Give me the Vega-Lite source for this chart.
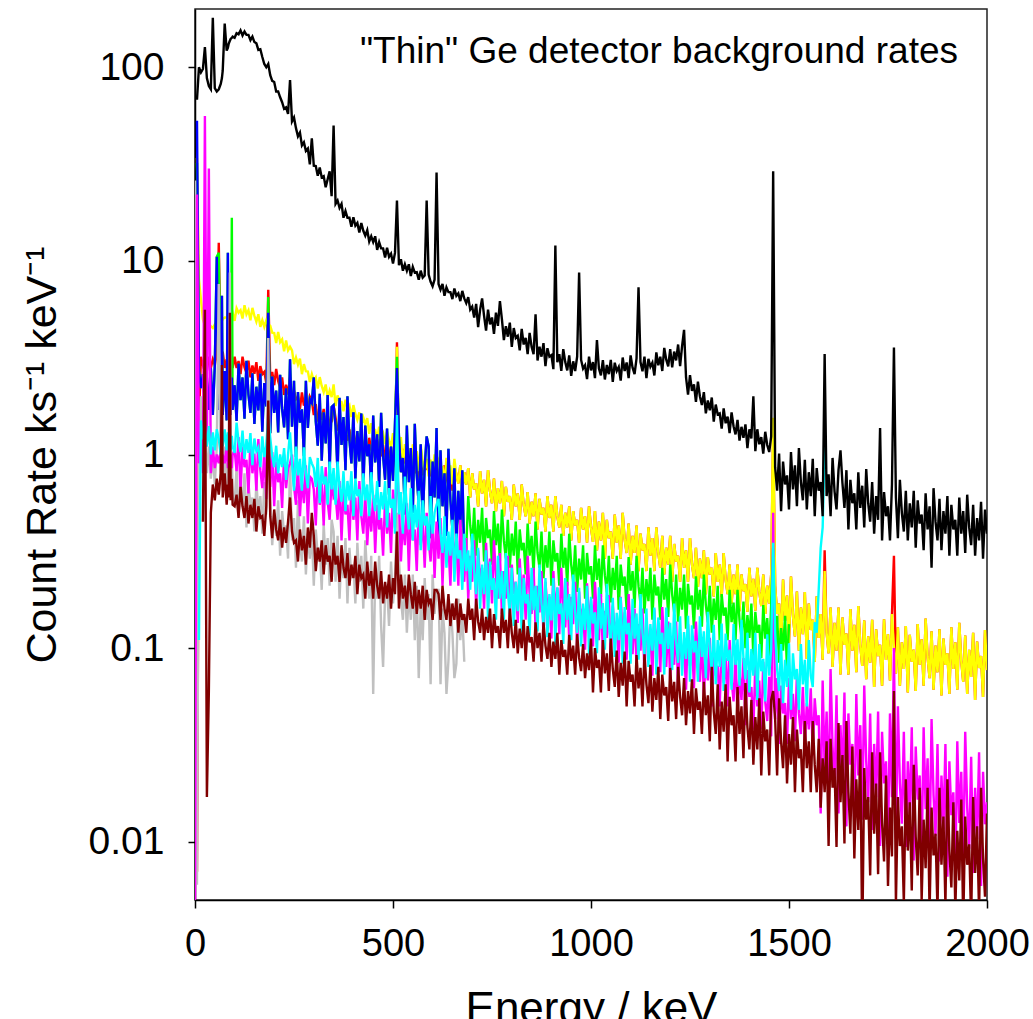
{
"$schema": "https://vega.github.io/schema/vega-lite/v6.json",
"width": 792, "height": 891,
"autosize": "none",
"padding": {"left": 195, "top": 9, "right": 46, "bottom": 119},
"background": "white",
"title": {"text": "\"Thin\" Ge detector background rates", "anchor": "end", "frame": "group", "orient": "top", "offset": -54, "dy": 37, "baseline": "alphabetic", "fontSize": 37, "fontWeight": "normal", "font": "Liberation Sans", "color": "#000", "dx": -29},
"config": {"view": {"stroke": "#222", "strokeWidth": 1.5}, "font": "Liberation Sans",
 "axis": {"grid": false, "domainColor": "#000", "tickColor": "#000", "labelColor": "#000", "titleColor": "#000", "titleFontWeight": "normal", "domainWidth": 1.5, "tickWidth": 1.5, "labelFont": "Liberation Sans", "titleFont": "Liberation Sans"}},
"data": {"values": [
{"e":0,"m":0.004,"a":26},
{"e":5,"k":68,"y":34,"r":0.007,"g":32,"b":53,"m":22,"a":0.006},
{"e":10,"k":100,"y":8,"r":1.5,"g":2.7,"b":2.7,"m":0.9,"c":0.11,"a":1.2},
{"e":15,"k":94,"y":6.3,"r":3.2,"g":2.2,"b":2.2,"m":1.3,"c":1.5,"a":2.0},
{"e":20,"k":98,"y":5.0,"r":2.9,"g":2.6,"b":2.6,"m":0.8,"c":1.2,"a":0.9,"n":0.45},
{"e":25,"k":127,"y":4.6,"r":3.1,"g":1.8,"b":1.8,"m":56,"c":1.35,"a":1.3,"n":5.6},
{"e":30,"k":88,"y":4.8,"r":2.7,"g":2.5,"b":2.5,"m":1.1,"c":1.1,"a":0.8,"n":0.017},
{"e":35,"k":80,"y":4.5,"r":3.2,"g":1.7,"b":1.7,"m":30,"c":1.4,"a":1.1,"n":0.06},
{"e":40,"k":77,"y":4.6,"r":2.8,"g":2.8,"b":2.8,"m":0.8,"c":1.0,"a":0.75,"n":0.5},
{"e":45,"k":180,"y":4.5,"r":3.1,"g":1.6,"b":1.6,"m":1.1,"c":1.3,"a":1.0,"n":0.7},
{"e":50,"k":78,"y":4.7,"r":2.9,"g":2.9,"b":2.9,"m":0.85,"c":1.05,"a":0.7,"n":0.58},
{"e":55,"k":75,"y":4.6,"r":3.3,"g":10.5,"b":10.5,"m":1.0,"c":1.35,"a":1.1,"n":0.75},
{"e":60,"k":77,"y":4.8,"r":12.4,"g":11,"b":1.7,"m":0.9,"c":1.2,"a":7.6,"n":0.62},
{"e":65,"k":82,"y":4.9,"r":3.0,"g":2.6,"b":2.6,"m":1.05,"c":1.0,"a":0.7,"n":0.8},
{"e":68,"k":88,"y":4.9,"r":2.9,"g":6.6,"b":6.6,"m":0.85,"c":1.3,"a":0.95,"n":2.9},
{"e":70,"k":96,"y":5.0,"r":3.4,"g":1.6,"b":1.6,"m":1.0,"c":1.1,"a":0.65,"n":0.6},
{"e":75,"k":168,"y":5.1,"r":2.8,"g":2.7,"b":2.7,"m":0.9,"c":1.35,"a":1.1,"n":0.8},
{"e":80,"k":122,"y":5.1,"r":3.1,"g":1.5,"b":1.5,"m":1.1,"c":1.05,"a":0.6,"n":0.55},
{"e":83,"k":126,"y":5.2,"r":2.8,"g":11,"b":11,"m":0.85,"c":1.3,"a":0.9,"n":0.7},
{"e":85,"k":132,"y":5.2,"r":3.0,"g":1.8,"b":1.8,"m":1.05,"c":1.1,"a":0.7,"n":0.6},
{"e":88,"k":137,"y":5.3,"r":3.2,"g":2.8,"b":2.8,"m":0.9,"c":1.4,"a":8.7,"n":5.4},
{"e":90,"k":140,"y":5.3,"r":2.9,"g":1.6,"b":1.6,"m":1.0,"c":1.05,"a":0.65,"n":0.58},
{"e":93,"k":142,"y":5.3,"r":3.0,"g":16.7,"b":2.5,"m":0.85,"c":1.25,"a":1.0,"n":0.75},
{"e":95,"k":144,"y":5.4,"r":2.8,"g":1.7,"b":1.7,"m":1.0,"c":1.1,"a":0.6,"n":0.55},
{"e":100,"k":142,"y":4.9,"r":3.2,"g":2.28,"b":2.28,"m":1.06,"c":1.02,"a":0.56,"n":0.54},
{"e":105,"k":150,"y":5.7,"r":2.8,"g":1.49,"b":1.49,"m":0.82,"c":1.46,"a":0.85,"n":0.62},
{"e":110,"k":148,"y":5.4,"r":3.04,"g":2.95,"b":2.95,"m":1.23,"c":1.17,"a":0.48,"n":0.47},
{"e":115,"k":155,"y":5.56,"r":2.6,"g":1.91,"b":1.91,"m":0.64,"c":1.03,"a":0.72,"n":0.68},
{"e":120,"k":146,"y":5.04,"r":3.2,"g":2.5,"b":2.5,"m":1.1,"c":1.33,"a":0.54,"n":0.54},
{"e":125,"k":153,"y":5.9,"r":2.82,"g":1.53,"b":1.53,"m":0.86,"c":0.95,"a":0.8,"n":0.47},
{"e":130,"k":147,"y":5.3,"r":2.64,"g":3.05,"b":3.05,"m":0.94,"c":1.2,"a":0.42,"n":0.61},
{"e":135,"k":147,"y":5.56,"r":3.05,"g":2.04,"b":2.04,"m":0.63,"c":1.02,"a":0.71,"n":0.44},
{"e":140,"k":138,"y":4.93,"r":2.5,"g":1.64,"b":1.64,"m":1.2,"c":1.29,"a":0.55,"n":0.55},
{"e":145,"k":144,"y":5.72,"r":2.88,"g":2.63,"b":2.63,"m":0.8,"c":0.88,"a":0.6,"n":0.47},
{"e":150,"k":135,"y":5.2,"r":2.61,"g":1.44,"b":1.44,"m":1.01,"c":1.21,"a":0.4,"n":0.59},
{"e":155,"k":133,"y":4.85,"r":3.0,"g":2.24,"b":2.24,"m":0.65,"c":1.04,"a":0.73,"n":0.4},
{"e":160,"k":123,"y":5.3,"r":2.4,"g":1.69,"b":1.69,"m":1.2,"c":1.09,"a":0.49,"n":0.54},
{"e":165,"k":124,"y":4.56,"r":2.86,"g":2.62,"b":2.62,"m":0.83,"c":0.86,"a":0.61,"n":0.47},
{"e":170,"k":113,"y":4.94,"r":2.6,"g":1.31,"b":1.31,"m":0.67,"c":1.24,"a":0.39,"n":0.48},
{"e":175,"k":104,"y":4.56,"r":2.67,"g":2.34,"b":2.34,"m":1.04,"c":0.97,"a":0.72,"n":0.38},
{"e":180,"k":100,"y":4.92,"r":2.34,"g":1.77,"b":1.77,"m":0.59,"c":1.11,"a":0.49,"n":0.54},
{"e":185,"k":104,"y":4.7,"r":7.1,"g":6.5,"b":5.4,"m":1.3,"c":1.6,"a":4.0,"n":1.9},
{"e":190,"k":91,"y":4.62,"r":2.47,"g":1.29,"b":1.29,"m":0.68,"c":1.22,"a":0.6,"n":0.48},
{"e":195,"k":85,"y":4.26,"r":2.67,"g":2.53,"b":2.53,"m":1.03,"c":0.98,"a":0.34,"n":0.37},
{"e":200,"k":84,"y":4.24,"r":2.28,"g":1.64,"b":1.64,"m":0.54,"c":0.86,"a":0.5,"n":0.52},
{"e":205,"k":75,"y":3.77,"r":2.77,"g":2.14,"b":2.14,"m":0.92,"c":1.11,"a":0.38,"n":0.41},
{"e":210,"k":75,"y":4.3,"r":2.4,"g":1.3,"b":1.3,"m":0.72,"c":0.8,"a":0.58,"n":0.36},
{"e":215,"k":70,"y":3.8,"r":2.2,"g":2.58,"b":2.58,"m":0.8,"c":1.0,"a":0.3,"n":0.46},
{"e":220,"k":66,"y":3.93,"r":2.5,"g":1.72,"b":1.72,"m":0.53,"c":0.86,"a":0.51,"n":0.33},
{"e":225,"k":61,"y":3.41,"r":2.03,"g":1.38,"b":1.38,"m":1.0,"c":1.08,"a":0.39,"n":0.42},
{"e":230,"k":62,"y":3.88,"r":2.29,"g":2.2,"b":2.2,"m":0.67,"c":0.74,"a":0.43,"n":0.35},
{"e":235,"k":57.5,"y":3.45,"r":2.04,"g":1.2,"b":1.2,"m":0.85,"c":1.0,"a":0.29,"n":0.45},
{"e":240,"k":86,"y":3.6,"r":2.5,"g":3.1,"b":3.1,"m":0.9,"c":1.3,"a":0.9,"n":0.6},
{"e":245,"k":52.5,"y":3.45,"r":1.82,"g":1.39,"b":1.39,"m":1.0,"c":0.9,"a":0.36,"n":0.4},
{"e":250,"k":55,"y":2.93,"r":2.14,"g":2.4,"b":2.4,"m":0.69,"c":0.65,"a":0.47,"n":0.35},
{"e":255,"k":48.5,"y":3.17,"r":1.93,"g":0.97,"b":0.97,"m":0.55,"c":1.1,"a":0.26,"n":0.36},
{"e":260,"k":44,"y":2.91,"r":1.98,"g":2.1,"b":2.1,"m":0.88,"c":0.78,"a":0.58,"n":0.28},
{"e":265,"k":46,"y":3.13,"r":1.72,"g":1.46,"b":1.46,"m":0.48,"c":0.95,"a":0.36,"n":0.41},
{"e":270,"k":39.5,"y":2.6,"r":2.09,"g":1.71,"b":1.71,"m":0.75,"c":0.65,"a":0.28,"n":0.32},
{"e":275,"k":41,"y":2.93,"r":1.79,"g":0.98,"b":0.98,"m":0.56,"c":1.09,"a":0.48,"n":0.38},
{"e":280,"k":37,"y":2.69,"r":1.93,"g":2.4,"b":2.4,"m":0.88,"c":0.8,"a":0.24,"n":0.27},
{"e":285,"k":38,"y":2.68,"r":1.63,"g":1.37,"b":1.37,"m":0.44,"c":0.67,"a":0.39,"n":0.42},
{"e":290,"k":31.5,"y":2.37,"r":1.99,"g":1.93,"b":1.93,"m":0.77,"c":0.97,"a":0.29,"n":0.33},
{"e":295,"k":43,"y":2.6,"r":1.9,"g":1.85,"b":1.85,"m":0.75,"c":0.9,"a":0.4,"n":0.5},
{"e":300,"k":31,"y":2.4,"r":1.6,"g":2.5,"b":2.5,"m":0.66,"c":0.85,"a":0.21,"n":0.38},
{"e":305,"k":30.9,"y":2.5,"r":1.82,"g":1.48,"b":1.48,"m":0.43,"c":0.68,"a":0.41,"n":0.25},
{"e":310,"k":27.5,"y":2.19,"r":1.48,"g":1.11,"b":1.11,"m":0.83,"c":0.96,"a":0.3,"n":0.33},
{"e":315,"k":30.4,"y":2.51,"r":1.68,"g":2.06,"b":2.06,"m":0.55,"c":0.56,"a":0.33,"n":0.28},
{"e":320,"k":27,"y":2.26,"r":1.51,"g":0.93,"b":0.93,"m":0.71,"c":0.87,"a":0.2,"n":0.36},
{"e":325,"k":27.4,"y":2.1,"r":1.72,"g":1.65,"b":1.65,"m":0.43,"c":0.7,"a":0.44,"n":0.24},
{"e":330,"k":24,"y":2.3,"r":1.36,"g":1.14,"b":1.14,"m":0.86,"c":0.77,"a":0.27,"n":0.34},
{"e":335,"k":26.4,"y":1.97,"r":1.6,"g":2.03,"b":2.03,"m":0.57,"c":0.55,"a":0.37,"n":0.28},
{"e":340,"k":29,"y":2.14,"r":1.44,"g":0.82,"b":0.82,"m":0.46,"c":0.92,"a":0.21,"n":0.3},
{"e":345,"k":21.6,"y":1.98,"r":1.48,"g":1.76,"b":1.76,"m":0.73,"c":0.66,"a":0.46,"n":0.22},
{"e":350,"k":50,"y":2.3,"r":1.8,"g":1.8,"b":1.8,"m":0.6,"c":0.85,"a":0.4,"n":0.35},
{"e":355,"k":19.7,"y":1.78,"r":1.55,"g":1.4,"b":1.4,"m":0.62,"c":0.55,"a":0.22,"n":0.27},
{"e":360,"k":20.5,"y":2.02,"r":1.33,"g":0.81,"b":0.81,"m":0.46,"c":0.92,"a":0.38,"n":0.3},
{"e":365,"k":18.8,"y":1.87,"r":1.43,"g":1.96,"b":1.96,"m":0.73,"c":0.68,"a":0.18,"n":0.22},
{"e":370,"k":19.7,"y":1.87,"r":1.21,"g":1.12,"b":1.12,"m":0.36,"c":0.57,"a":0.31,"n":0.34},
{"e":375,"k":16.7,"y":1.67,"r":1.47,"g":1.56,"b":1.56,"m":0.65,"c":0.82,"a":0.23,"n":0.26},
{"e":380,"k":18.1,"y":1.92,"r":1.28,"g":0.83,"b":0.83,"m":0.49,"c":0.51,"a":0.37,"n":0.23},
{"e":385,"k":16.7,"y":1.72,"r":1.18,"g":2.0,"b":2.0,"m":0.55,"c":0.73,"a":0.17,"n":0.31},
{"e":390,"k":16.7,"y":1.79,"r":1.35,"g":1.19,"b":1.19,"m":0.36,"c":0.58,"a":0.33,"n":0.21},
{"e":395,"k":15,"y":1.56,"r":1.1,"g":0.9,"b":0.9,"m":0.71,"c":0.82,"a":0.23,"n":0.27},
{"e":400,"k":16.8,"y":1.8,"r":1.25,"g":1.65,"b":1.65,"m":0.46,"c":0.48,"a":0.27,"n":0.23},
{"e":405,"k":15.2,"y":1.62,"r":1.13,"g":0.75,"b":0.75,"m":0.6,"c":0.75,"a":0.17,"n":0.3},
{"e":410,"k":15.7,"y":1.51,"r":1.29,"g":1.32,"b":1.32,"m":0.36,"c":0.61,"a":0.35,"n":0.19},
{"e":415,"k":14,"y":1.65,"r":1.03,"g":0.92,"b":0.92,"m":0.73,"c":0.66,"a":0.22,"n":0.27},
{"e":420,"k":15.7,"y":1.42,"r":1.23,"g":1.63,"b":1.63,"m":0.48,"c":0.48,"a":0.3,"n":0.23},
{"e":425,"k":14.3,"y":1.55,"r":1.11,"g":0.65,"b":0.65,"m":0.39,"c":0.8,"a":0.16,"n":0.24},
{"e":430,"k":13.5,"y":1.43,"r":1.14,"g":1.41,"b":1.41,"m":0.62,"c":0.58,"a":0.36,"n":0.18},
{"e":435,"k":14.4,"y":1.54,"r":1.0,"g":0.98,"b":0.98,"m":0.34,"c":0.7,"a":0.23,"n":0.28},
{"e":440,"k":12.6,"y":1.28,"r":1.22,"g":1.13,"b":1.13,"m":0.53,"c":0.48,"a":0.18,"n":0.21},
{"e":445,"k":13.4,"y":1.45,"r":1.05,"g":0.65,"b":0.65,"m":0.4,"c":0.81,"a":0.3,"n":0.25},
{"e":450,"k":12.5,"y":1.35,"r":1.13,"g":1.59,"b":1.59,"m":0.62,"c":0.6,"a":0.058,"n":0.18},
{"e":455,"k":13.4,"y":1.34,"r":0.96,"g":0.91,"b":0.91,"m":0.31,"c":0.51,"a":0.24,"n":0.28},
{"e":460,"k":11.4,"y":1.2,"r":1.2,"g":1.27,"b":1.27,"m":0.55,"c":0.73,"a":0.18,"n":0.21},
{"e":465,"k":12.5,"y":1.39,"r":1.05,"g":0.68,"b":0.68,"m":0.41,"c":0.46,"a":0.3,"n":0.18},
{"e":470,"k":11.6,"y":1.24,"r":0.98,"g":1.64,"b":1.64,"m":0.47,"c":0.64,"a":0.13,"n":0.25},
{"e":475,"k":11.6,"y":1.29,"r":1.12,"g":0.98,"b":0.98,"m":0.3,"c":0.52,"a":0.08,"n":0.17},
{"e":480,"k":10.4,"y":1.13,"r":0.92,"g":0.74,"b":0.74,"m":0.6,"c":0.73,"a":0.19,"n":0.22},
{"e":485,"k":11.7,"y":1.31,"r":1.06,"g":1.36,"b":1.36,"m":0.39,"c":0.42,"a":0.21,"n":0.18},
{"e":490,"k":10.5,"y":1.18,"r":0.96,"g":0.62,"b":0.62,"m":0.5,"c":0.67,"a":0.13,"n":0.24},
{"e":495,"k":10.9,"y":1.1,"r":1.1,"g":1.1,"b":1.1,"m":0.31,"c":0.53,"a":0.28,"n":0.16},
{"e":500,"k":9.7,"y":1.29,"r":0.86,"g":0.73,"b":0.73,"m":0.66,"c":0.59,"a":0.17,"n":0.23},
{"e":505,"k":11,"y":0.96,"r":1.07,"g":1.45,"b":1.45,"m":0.42,"c":0.39,"a":0.23,"n":0.19},
{"e":510,"k":20.5,"y":3.6,"r":3.8,"g":3.2,"b":2.8,"m":0.9,"c":1.6,"a":0.5,"n":0.4},
{"e":515,"k":9.5,"y":1.01,"r":0.99,"g":1.24,"b":1.24,"m":0.56,"c":0.49,"a":0.29,"n":0.16},
{"e":520,"k":10.2,"y":1.23,"r":0.82,"g":0.81,"b":0.81,"m":0.28,"c":0.64,"a":0.18,"n":0.24},
{"e":525,"k":8.9,"y":0.88,"r":1.07,"g":0.96,"b":0.96,"m":0.46,"c":0.39,"a":0.14,"n":0.18},
{"e":530,"k":9.6,"y":1.13,"r":0.9,"g":0.49,"b":0.49,"m":0.34,"c":0.77,"a":0.24,"n":0.21},
{"e":535,"k":8.9,"y":0.98,"r":0.98,"g":1.41,"b":1.41,"m":0.56,"c":0.52,"a":0.12,"n":0.16},
{"e":540,"k":9.6,"y":1.03,"r":0.8,"g":0.72,"b":0.72,"m":0.25,"c":0.41,"a":0.2,"n":0.24},
{"e":545,"k":8.35,"y":0.83,"r":1.03,"g":1.08,"b":1.08,"m":0.5,"c":0.67,"a":0.14,"n":0.19},
{"e":550,"k":9.3,"y":1.13,"r":0.88,"g":0.5,"b":0.5,"m":0.36,"c":0.36,"a":0.24,"n":0.16},
{"e":555,"k":8.7,"y":0.92,"r":0.8,"g":1.44,"b":1.44,"m":0.41,"c":0.55,"a":0.11,"n":0.22},
{"e":560,"k":8.75,"y":1.04,"r":0.95,"g":0.78,"b":0.78,"m":0.25,"c":0.42,"a":0.21,"n":0.15},
{"e":565,"k":8.0,"y":0.82,"r":0.75,"g":0.55,"b":0.55,"m":0.55,"c":0.65,"a":0.07,"n":0.2},
{"e":570,"k":8.9,"y":1.12,"r":0.88,"g":1.13,"b":1.13,"m":0.34,"c":0.32,"a":0.17,"n":0.16},
{"e":575,"k":8.2,"y":0.92,"r":0.78,"g":0.44,"b":0.44,"m":0.46,"c":0.58,"a":0.11,"n":0.21},
{"e":580,"k":8.4,"y":0.83,"r":0.92,"g":0.86,"b":0.86,"m":0.26,"c":0.43,"a":0.23,"n":0.14},
{"e":585,"k":20.5,"y":0.95,"r":0.85,"g":1.24,"b":1.24,"m":0.5,"c":0.48,"a":0.14,"n":0.2},
{"e":590,"k":8.5,"y":0.77,"r":0.87,"g":1.1,"b":1.1,"m":0.36,"c":0.32,"a":0.19,"n":0.17},
{"e":595,"k":7.8,"y":0.94,"r":0.79,"g":0.37,"b":0.37,"m":0.28,"c":0.61,"a":0.065,"n":0.18},
{"e":600,"k":7.4,"y":0.82,"r":0.82,"g":0.92,"b":0.92,"m":0.48,"c":0.39,"a":0.24,"n":0.14},
{"e":605,"k":8.0,"y":1.0,"r":0.68,"g":0.6,"b":0.6,"m":0.23,"c":0.5,"a":0.15,"n":0.2},
{"e":610,"k":28.6,"y":0.9,"r":0.88,"g":1.37,"b":1.37,"m":0.45,"c":0.55,"a":0.2,"n":0.2},
{"e":615,"k":7.6,"y":0.94,"r":0.76,"g":0.37,"b":0.37,"m":0.29,"c":0.59,"a":0.2,"n":0.19},
{"e":620,"k":7.1,"y":0.82,"r":0.82,"g":1.05,"b":1.05,"m":0.47,"c":0.39,"a":0.065,"n":0.14},
{"e":625,"k":7.6,"y":0.87,"r":0.68,"g":0.54,"b":0.54,"m":0.21,"c":0.31,"a":0.16,"n":0.21},
{"e":630,"k":6.6,"y":0.71,"r":0.88,"g":0.8,"b":0.8,"m":0.41,"c":0.48,"a":0.12,"n":0.16},
{"e":635,"k":7.3,"y":0.96,"r":0.76,"g":0.38,"b":0.38,"m":0.3,"c":0.26,"a":0.058,"n":0.14},
{"e":640,"k":6.9,"y":0.78,"r":0.69,"g":1.07,"b":1.07,"m":0.34,"c":0.4,"a":0.086,"n":0.19},
{"e":645,"k":6.9,"y":0.88,"r":0.83,"g":0.58,"b":0.58,"m":0.21,"c":0.3,"a":0.17,"n":0.13},
{"e":650,"k":6.35,"y":0.7,"r":0.65,"g":0.41,"b":0.41,"m":0.45,"c":0.46,"a":0.12,"n":0.17},
{"e":655,"k":7.2,"y":0.95,"r":0.77,"g":0.85,"b":0.85,"m":0.27,"c":0.22,"a":0.07,"n":0.14},
{"e":660,"k":6.6,"y":0.79,"r":0.79,"g":0.33,"b":0.33,"m":0.37,"c":0.39,"a":0.083,"n":0.18},
{"e":665,"k":6.8,"y":0.71,"r":0.71,"g":0.65,"b":0.65,"m":0.21,"c":0.29,"a":0.18,"n":0.12},
{"e":670,"k":6.2,"y":0.88,"r":0.88,"g":0.42,"b":0.42,"m":0.46,"c":0.32,"a":0.11,"n":0.17},
{"e":675,"k":7.0,"y":0.66,"r":0.66,"g":0.83,"b":0.83,"m":0.29,"c":0.2,"a":0.15,"n":0.14},
{"e":680,"k":6.4,"y":0.81,"r":0.81,"g":0.29,"b":0.29,"m":0.22,"c":0.39,"a":0.085,"n":0.15},
{"e":685,"k":6.05,"y":0.7,"r":0.7,"g":0.33,"m":0.37,"c":0.25,"n":0.12},
{"e":690,"k":6.5,"y":0.85,"r":0.85,"g":0.61,"m":0.18,"c":0.32,"n":0.18},
{"e":695,"k":5.6,"y":0.6,"r":0.6,"g":0.43,"m":0.3,"c":0.2,"n":0.14},
{"e":700,"k":5.8,"y":0.8,"r":0.8,"g":0.34,"m":0.22,"c":0.39,"n":0.16},
{"e":705,"k":5.1,"y":0.66,"r":0.66,"g":0.53,"m":0.36,"c":0.25,"n":0.11},
{"e":710,"k":6.0,"y":0.71,"r":0.71,"g":0.3,"m":0.16,"c":0.19,"n":0.18},
{"e":715,"k":4.55,"y":0.54,"r":0.54,"g":0.46,"m":0.32,"c":0.33,"n":0.137},
{"e":720,"k":5.6,"y":0.82,"r":0.82,"g":0.35,"m":0.23,"c":0.16,"n":0.12},
{"e":725,"k":6.4,"y":0.63,"r":0.63,"g":0.53,"m":0.26,"c":0.27,"n":0.16},
{"e":730,"k":5.2,"y":0.74,"r":0.74,"g":0.28,"m":0.16,"c":0.19,"n":0.11},
{"e":735,"k":4.36,"y":0.54,"r":0.54,"g":0.47,"m":0.35,"c":0.32,"n":0.145},
{"e":740,"k":5.6,"y":0.83,"r":0.83,"g":0.37,"m":0.22,"c":0.14,"n":0.12},
{"e":745,"k":4.7,"y":0.645,"r":0.645,"g":0.41,"m":0.29,"c":0.28,"n":0.16},
{"e":750,"k":5.1,"y":0.56,"r":0.56,"g":0.27,"m":0.17,"c":0.2,"n":0.1},
{"e":755,"k":4.2,"y":0.75,"r":0.75,"g":0.51,"m":0.36,"c":0.23,"n":0.15},
{"e":760,"k":5.4,"y":0.51,"r":0.51,"g":0.34,"m":0.23,"c":0.14,"n":0.12},
{"e":765,"k":4.62,"y":0.67,"r":0.67,"g":0.44,"m":0.18,"c":0.3,"n":0.13},
{"e":770,"k":6.2,"y":0.56,"r":0.56,"g":0.28,"m":0.31,"c":0.18,"n":0.1},
{"e":775,"k":5.0,"y":0.73,"r":0.73,"g":0.52,"m":0.15,"c":0.25,"n":0.16},
{"e":780,"k":3.9,"y":0.48,"r":0.48,"g":0.36,"m":0.25,"c":0.14,"n":0.12},
{"e":785,"k":4.6,"y":0.68,"r":0.68,"g":0.29,"m":0.18,"c":0.31,"n":0.14},
{"e":790,"k":4.06,"y":0.57,"r":0.57,"g":0.46,"m":0.3,"c":0.195,"n":0.1},
{"e":795,"k":4.8,"y":0.61,"r":0.61,"g":0.26,"m":0.14,"c":0.15,"n":0.16},
{"e":800,"k":3.6,"y":0.46,"r":0.46,"g":0.39,"m":0.27,"c":0.26,"n":0.12},
{"e":805,"k":4.5,"y":0.7,"r":0.7,"g":0.3,"m":0.19,"c":0.13,"n":0.1},
{"e":810,"k":4.0,"y":0.54,"r":0.54,"g":0.45,"m":0.22,"c":0.22,"n":0.14},
{"e":815,"k":4.1,"y":0.63,"r":0.63,"g":0.24,"m":0.135,"c":0.155,"n":0.094},
{"e":820,"k":3.45,"y":0.46,"r":0.46,"g":0.41,"m":0.29,"c":0.26,"n":0.126},
{"e":825,"k":4.45,"y":0.7,"r":0.7,"g":0.32,"m":0.18,"c":0.12,"n":0.1},
{"e":830,"k":3.7,"y":0.55,"r":0.55,"g":0.35,"m":0.24,"c":0.23,"n":0.14},
{"e":835,"k":4.0,"y":0.48,"r":0.48,"g":0.24,"m":0.14,"c":0.17,"n":0.086},
{"e":840,"k":3.3,"y":0.64,"r":0.64,"g":0.44,"m":0.3,"c":0.19,"n":0.13},
{"e":845,"k":4.25,"y":0.44,"r":0.44,"g":0.3,"m":0.19,"c":0.116,"n":0.107},
{"e":850,"k":3.6,"y":0.57,"r":0.57,"g":0.38,"m":0.15,"c":0.26,"n":0.114},
{"e":855,"k":3.3,"y":0.48,"r":0.48,"g":0.24,"m":0.26,"c":0.157,"n":0.085},
{"e":860,"k":5.3,"y":0.63,"r":0.63,"g":0.45,"m":0.126,"c":0.21,"n":0.136},
{"e":865,"k":3.06,"y":0.41,"r":0.41,"g":0.31,"m":0.21,"c":0.122,"n":0.1},
{"e":870,"k":3.6,"y":0.59,"r":0.59,"g":0.26,"m":0.153,"c":0.27,"n":0.12},
{"e":875,"k":3.2,"y":0.49,"r":0.49,"g":0.4,"m":0.25,"c":0.17,"n":0.085},
{"e":880,"k":3.76,"y":0.53,"r":0.53,"g":0.23,"m":0.114,"c":0.133,"n":0.136},
{"e":885,"k":2.86,"y":0.4,"r":0.4,"g":0.34,"m":0.22,"c":0.23,"n":0.103},
{"e":890,"k":3.54,"y":0.61,"r":0.61,"g":0.26,"m":0.16,"c":0.114,"n":0.088},
{"e":895,"k":3.2,"y":0.47,"r":0.47,"g":0.4,"m":0.184,"c":0.19,"n":0.12},
{"e":900,"k":3.26,"y":0.55,"r":0.55,"g":0.21,"m":0.112,"c":0.139,"n":0.08},
{"e":905,"k":2.76,"y":0.4,"r":0.4,"g":0.36,"m":0.25,"c":0.23,"n":0.108},
{"e":910,"k":12,"y":0.61,"r":0.61,"g":0.28,"m":0.15,"c":0.104,"n":0.088},
{"e":915,"k":3.0,"y":0.48,"r":0.48,"g":0.31,"m":0.205,"c":0.206,"n":0.12},
{"e":920,"k":3.3,"y":0.42,"r":0.42,"g":0.21,"m":0.118,"c":0.15,"n":0.073},
{"e":925,"k":2.7,"y":0.55,"r":0.55,"g":0.39,"m":0.26,"c":0.17,"n":0.11},
{"e":930,"k":3.5,"y":0.38,"r":0.38,"g":0.26,"m":0.164,"c":0.105,"n":0.09},
{"e":935,"k":3.0,"y":0.5,"r":0.5,"g":0.33,"m":0.128,"c":0.23,"n":0.098},
{"e":940,"k":2.72,"y":0.42,"r":0.42,"g":0.21,"m":0.22,"c":0.14,"n":0.073},
{"e":945,"k":3.25,"y":0.54,"r":0.54,"g":0.39,"m":0.11,"c":0.19,"n":0.117},
{"e":950,"k":2.55,"y":0.36,"r":0.36,"g":0.27,"m":0.184,"c":0.11,"n":0.086},
{"e":955,"k":3.03,"y":0.51,"r":0.51,"g":0.22,"m":0.133,"c":0.24,"n":0.103},
{"e":960,"k":2.7,"y":0.43,"r":0.43,"g":0.34,"m":0.22,"c":0.153,"n":0.073},
{"e":965,"k":3.2,"y":0.46,"r":0.46,"g":0.195,"m":0.1,"c":0.12,"n":0.118},
{"e":970,"k":8.7,"y":0.35,"r":0.35,"g":0.29,"m":0.196,"c":0.205,"n":0.089},
{"e":975,"k":3.08,"y":0.53,"r":0.53,"g":0.226,"m":0.141,"c":0.102,"n":0.076},
{"e":980,"k":2.78,"y":0.41,"r":0.41,"g":0.34,"m":0.16,"c":0.17,"n":0.105},
{"e":985,"k":2.89,"y":0.48,"r":0.48,"g":0.18,"m":0.098,"c":0.124,"n":0.07},
{"e":990,"k":2.45,"y":0.35,"r":0.35,"g":0.31,"m":0.216,"c":0.21,"n":0.094},
{"e":995,"k":3.2,"y":0.54,"r":0.54,"g":0.24,"m":0.13,"c":0.093,"n":0.077},
{"e":1000,"k":2.72,"y":0.42,"r":0.42,"g":0.265,"m":0.178,"c":0.184,"n":0.112},
{"e":1005,"k":3.0,"y":0.354,"r":0.354,"g":0.18,"m":0.102,"c":0.134,"n":0.059},
{"e":1010,"k":2.48,"y":0.51,"r":0.51,"g":0.34,"m":0.22,"c":0.153,"n":0.1},
{"e":1015,"k":3.9,"y":0.32,"r":0.32,"g":0.225,"m":0.141,"c":0.094,"n":0.079},
{"e":1020,"k":2.78,"y":0.45,"r":0.45,"g":0.29,"m":0.11,"c":0.206,"n":0.087},
{"e":1025,"k":2.56,"y":0.36,"r":0.36,"g":0.184,"m":0.19,"c":0.126,"n":0.059},
{"e":1030,"k":3.07,"y":0.5,"r":0.5,"g":0.34,"m":0.093,"c":0.171,"n":0.11},
{"e":1035,"k":2.44,"y":0.29,"r":0.29,"g":0.238,"m":0.156,"c":0.098,"n":0.074},
{"e":1040,"k":2.9,"y":0.46,"r":0.46,"g":0.194,"m":0.113,"c":0.215,"n":0.094},
{"e":1045,"k":2.6,"y":0.37,"r":0.37,"g":0.3,"m":0.188,"c":0.136,"n":0.06},
{"e":1050,"k":3.08,"y":0.4,"r":0.4,"g":0.172,"m":0.085,"c":0.106,"n":0.112},
{"e":1055,"k":2.37,"y":0.29,"r":0.29,"g":0.26,"m":0.166,"c":0.182,"n":0.078},
{"e":1060,"k":2.98,"y":0.49,"r":0.49,"g":0.2,"m":0.121,"c":0.09,"n":0.063},
{"e":1065,"k":2.7,"y":0.35,"r":0.35,"g":0.3,"m":0.137,"c":0.152,"n":0.097},
{"e":1070,"k":2.83,"y":0.43,"r":0.43,"g":0.158,"m":0.084,"c":0.11,"n":0.056},
{"e":1075,"k":2.41,"y":0.29,"r":0.29,"g":0.27,"m":0.184,"c":0.183,"n":0.084},
{"e":1080,"k":3.17,"y":0.5,"r":0.5,"g":0.21,"m":0.113,"c":0.083,"n":0.064},
{"e":1085,"k":2.7,"y":0.365,"r":0.365,"g":0.234,"m":0.153,"c":0.163,"n":0.096},
{"e":1090,"k":2.99,"y":0.31,"r":0.31,"g":0.158,"m":0.087,"c":0.118,"n":0.05},
{"e":1095,"k":2.48,"y":0.44,"r":0.44,"g":0.295,"m":0.19,"c":0.135,"n":0.086},
{"e":1100,"k":3.25,"y":0.27,"r":0.27,"g":0.198,"m":0.12,"c":0.083,"n":0.067},
{"e":1105,"k":2.81,"y":0.38,"r":0.38,"g":0.25,"m":0.093,"c":0.18,"n":0.073},
{"e":1110,"k":2.6,"y":0.31,"r":0.31,"g":0.161,"m":0.16,"c":0.112,"n":0.05},
{"e":1115,"k":3.14,"y":0.43,"r":0.43,"g":0.3,"m":0.08,"c":0.151,"n":0.092},
{"e":1120,"k":7.3,"y":0.25,"r":0.25,"g":0.209,"m":0.133,"c":0.087,"n":0.062},
{"e":1125,"k":3.0,"y":0.39,"r":0.39,"g":0.17,"m":0.097,"c":0.19,"n":0.079},
{"e":1130,"k":2.69,"y":0.32,"r":0.32,"g":0.26,"m":0.16,"c":0.12,"n":0.05},
{"e":1135,"k":3.2,"y":0.345,"r":0.345,"g":0.151,"m":0.072,"c":0.093,"n":0.093},
{"e":1140,"k":2.48,"y":0.25,"r":0.25,"g":0.227,"m":0.142,"c":0.16,"n":0.065},
{"e":1145,"k":3.12,"y":0.42,"r":0.42,"g":0.175,"m":0.103,"c":0.08,"n":0.052},
{"e":1150,"k":2.84,"y":0.3,"r":0.3,"g":0.26,"m":0.118,"c":0.133,"n":0.082},
{"e":1155,"k":2.98,"y":0.37,"r":0.37,"g":0.14,"m":0.072,"c":0.097,"n":0.047},
{"e":1160,"k":2.56,"y":0.25,"r":0.25,"g":0.24,"m":0.158,"c":0.162,"n":0.07},
{"e":1165,"k":3.37,"y":0.42,"r":0.42,"g":0.187,"m":0.096,"c":0.073,"n":0.054},
{"e":1170,"k":2.89,"y":0.31,"r":0.31,"g":0.208,"m":0.13,"c":0.144,"n":0.08},
{"e":1175,"k":3.2,"y":0.26,"r":0.26,"g":0.14,"m":0.075,"c":0.105,"n":0.043},
{"e":1180,"k":2.7,"y":0.38,"r":0.38,"g":0.26,"m":0.163,"c":0.12,"n":0.073},
{"e":1185,"k":3.55,"y":0.24,"r":0.24,"g":0.178,"m":0.103,"c":0.073,"n":0.057},
{"e":1190,"k":3.09,"y":0.33,"r":0.33,"g":0.227,"m":0.08,"c":0.162,"n":0.063},
{"e":1195,"k":2.85,"y":0.27,"r":0.27,"g":0.145,"m":0.137,"c":0.099,"n":0.042},
{"e":1200,"k":3.5,"y":0.38,"r":0.38,"g":0.27,"m":0.068,"c":0.135,"n":0.079},
{"e":1205,"k":2.82,"y":0.22,"r":0.22,"g":0.189,"m":0.114,"c":0.077,"n":0.053},
{"e":1210,"k":3.4,"y":0.345,"r":0.345,"g":0.153,"m":0.082,"c":0.17,"n":0.067},
{"e":1215,"k":3.06,"y":0.28,"r":0.28,"g":0.24,"m":0.137,"c":0.108,"n":0.043},
{"e":1220,"k":3.7,"y":0.3,"r":0.3,"g":0.137,"m":0.061,"c":0.084,"n":0.08},
{"e":1225,"k":2.86,"y":0.22,"r":0.22,"g":0.205,"m":0.12,"c":0.146,"n":0.056},
{"e":1230,"k":3.63,"y":0.37,"r":0.37,"g":0.158,"m":0.087,"c":0.072,"n":0.045},
{"e":1235,"k":4.4,"y":0.26,"r":0.26,"g":0.24,"m":0.1,"c":0.121,"n":0.07},
{"e":1240,"k":2.5,"y":0.32,"r":0.32,"g":0.126,"m":0.061,"c":0.088,"n":0.04},
{"e":1245,"k":2.04,"y":0.22,"r":0.22,"g":0.215,"m":0.133,"c":0.147,"n":0.06},
{"e":1250,"k":2.57,"y":0.37,"r":0.37,"g":0.168,"m":0.081,"c":0.067,"n":0.046},
{"e":1255,"k":2.13,"y":0.27,"r":0.27,"g":0.187,"m":0.11,"c":0.131,"n":0.069},
{"e":1260,"k":2.3,"y":0.23,"r":0.23,"g":0.126,"m":0.062,"c":0.095,"n":0.036},
{"e":1265,"k":1.87,"y":0.33,"r":0.33,"g":0.235,"m":0.137,"c":0.109,"n":0.062},
{"e":1270,"k":2.38,"y":0.207,"r":0.207,"g":0.158,"m":0.086,"c":0.067,"n":0.048},
{"e":1275,"k":2.0,"y":0.29,"r":0.29,"g":0.2,"m":0.067,"c":0.146,"n":0.053},
{"e":1280,"k":1.8,"y":0.23,"r":0.23,"g":0.129,"m":0.114,"c":0.09,"n":0.036},
{"e":1285,"k":2.1,"y":0.32,"r":0.32,"g":0.24,"m":0.056,"c":0.122,"n":0.067},
{"e":1290,"k":1.63,"y":0.19,"r":0.19,"g":0.167,"m":0.094,"c":0.07,"n":0.045},
{"e":1295,"k":1.9,"y":0.295,"r":0.295,"g":0.136,"m":0.068,"c":0.154,"n":0.057},
{"e":1300,"k":1.69,"y":0.24,"r":0.24,"g":0.21,"m":0.113,"c":0.098,"n":0.033},
{"e":1305,"k":1.97,"y":0.26,"r":0.26,"g":0.12,"m":0.05,"c":0.076,"n":0.08},
{"e":1310,"k":1.48,"y":0.185,"r":0.185,"g":0.18,"m":0.099,"c":0.132,"n":0.047},
{"e":1315,"k":1.81,"y":0.31,"r":0.31,"g":0.14,"m":0.072,"c":0.065,"n":0.036},
{"e":1320,"k":1.61,"y":0.22,"r":0.22,"g":0.21,"m":0.081,"c":0.11,"n":0.065},
{"e":1325,"k":1.63,"y":0.27,"r":0.27,"g":0.11,"m":0.05,"c":0.08,"n":0.03},
{"e":1330,"k":1.36,"y":0.183,"r":0.183,"g":0.19,"m":0.108,"c":0.134,"n":0.053},
{"e":1335,"k":1.73,"y":0.31,"r":0.31,"g":0.147,"m":0.066,"c":0.06,"n":0.037},
{"e":1340,"k":1.45,"y":0.226,"r":0.226,"g":0.162,"m":0.089,"c":0.119,"n":0.065},
{"e":1345,"k":1.57,"y":0.19,"r":0.19,"g":0.11,"m":0.05,"c":0.086,"n":0.026},
{"e":1350,"k":1.29,"y":0.27,"r":0.27,"g":0.2,"m":0.11,"c":0.098,"n":0.056},
{"e":1355,"k":1.65,"y":0.17,"r":0.17,"g":0.136,"m":0.069,"c":0.061,"n":0.04},
{"e":1360,"k":1.4,"y":0.24,"r":0.24,"g":0.172,"m":0.053,"c":0.133,"n":0.045},
{"e":1365,"k":1.27,"y":0.19,"r":0.19,"g":0.11,"m":0.091,"c":0.082,"n":0.026},
{"e":1370,"k":1.51,"y":0.27,"r":0.27,"g":0.2,"m":0.045,"c":0.111,"n":0.063},
{"e":1375,"k":1.18,"y":0.155,"r":0.155,"g":0.14,"m":0.075,"c":0.064,"n":0.036},
{"e":1380,"k":1.39,"y":0.24,"r":0.24,"g":0.113,"m":0.054,"c":0.14,"n":0.05},
{"e":1385,"k":1.22,"y":0.197,"r":0.197,"g":0.174,"m":0.089,"c":0.089,"n":0.027},
{"e":1390,"k":1.43,"y":0.214,"r":0.214,"g":0.1,"m":0.04,"c":0.069,"n":0.066},
{"e":1395,"k":1.08,"y":0.154,"r":0.154,"g":0.148,"m":0.077,"c":0.12,"n":0.039},
{"e":1400,"k":1.35,"y":0.26,"r":0.26,"g":0.113,"m":0.056,"c":0.059,"n":0.03},
{"e":1405,"k":1.21,"y":0.185,"r":0.185,"g":0.17,"m":0.063,"c":0.099,"n":0.054},
{"e":1410,"k":2.0,"y":0.228,"r":0.228,"g":0.09,"m":0.038,"c":0.072,"n":0.025},
{"e":1415,"k":1.04,"y":0.156,"r":0.156,"g":0.154,"m":0.083,"c":0.12,"n":0.044},
{"e":1420,"k":1.35,"y":0.26,"r":0.26,"g":0.12,"m":0.05,"c":0.054,"n":0.03},
{"e":1425,"k":1.13,"y":0.195,"r":0.195,"g":0.132,"m":0.068,"c":0.105,"n":0.055},
{"e":1430,"k":1.23,"y":0.165,"r":0.165,"g":0.089,"m":0.038,"c":0.076,"n":0.022},
{"e":1435,"k":1.01,"y":0.24,"r":0.24,"g":0.167,"m":0.085,"c":0.088,"n":0.047},
{"e":1440,"k":1.31,"y":0.15,"r":0.15,"g":0.112,"m":0.053,"c":0.053,"n":0.033},
{"e":1445,"k":1.12,"y":0.21,"r":0.21,"g":0.143,"m":0.042,"c":0.118,"n":0.038},
{"e":1450,"k":1.03,"y":0.17,"r":0.17,"g":0.091,"m":0.071,"c":0.072,"n":0.022},
{"e":1455,"k":1.24,"y":0.24,"r":0.24,"g":0.17,"m":0.035,"c":0.098,"n":0.054},
{"e":1460,"k":29,"y":1.55,"r":1.29,"g":0.33,"m":0.5,"c":0.35,"n":0.06},
{"e":1465,"k":0.86,"y":0.21,"r":0.21,"g":0.095,"m":0.043,"c":0.12,"n":0.043},
{"e":1470,"k":0.65,"y":0.15,"r":0.15,"g":0.147,"m":0.07,"c":0.078,"n":0.022},
{"e":1475,"k":1.01,"y":0.17,"r":0.17,"g":0.084,"m":0.032,"c":0.06,"n":0.055},
{"e":1480,"k":0.51,"y":0.103,"r":0.103,"g":0.127,"m":0.064,"c":0.105,"n":0.033},
{"e":1485,"k":0.92,"y":0.226,"r":0.226,"g":0.097,"m":0.046,"c":0.052,"n":0.024},
{"e":1490,"k":0.7,"y":0.138,"r":0.138,"g":0.147,"m":0.052,"c":0.087,"n":0.045},
{"e":1495,"k":0.78,"y":0.187,"r":0.187,"g":0.077,"m":0.032,"c":0.063,"n":0.02},
{"e":1500,"k":0.52,"y":0.107,"r":0.107,"g":0.133,"m":0.07,"c":0.106,"n":0.036},
{"e":1505,"k":1.03,"y":0.234,"r":0.234,"m":0.043,"c":0.048,"n":0.025},
{"e":1510,"k":0.66,"y":0.147,"r":0.147,"m":0.058,"c":0.094,"n":0.044},
{"e":1515,"k":0.88,"y":0.115,"r":0.115,"m":0.033,"c":0.069,"n":0.018},
{"e":1520,"k":0.54,"y":0.196,"r":0.196,"m":0.074,"c":0.078,"n":0.038},
{"e":1525,"k":1.08,"y":0.097,"r":0.097,"m":0.046,"c":0.048,"n":0.027},
{"e":1530,"k":0.72,"y":0.162,"r":0.162,"m":0.036,"c":0.105,"n":0.03},
{"e":1535,"k":0.58,"y":0.118,"r":0.118,"m":0.063,"c":0.065,"n":0.018},
{"e":1540,"k":0.94,"y":0.195,"r":0.195,"m":0.031,"c":0.087,"n":0.042},
{"e":1545,"k":0.52,"y":0.088,"r":0.088,"m":0.052,"c":0.05,"n":0.024},
{"e":1550,"k":0.81,"y":0.17,"r":0.17,"m":0.038,"c":0.11,"n":0.033},
{"e":1555,"k":0.61,"y":0.124,"r":0.124,"m":0.062,"c":0.072,"n":0.018},
{"e":1560,"k":0.95,"y":0.14,"r":0.14,"m":0.028,"c":0.063,"n":0.042},
{"e":1565,"k":0.48,"y":0.085,"r":0.085,"m":0.055,"c":0.136,"n":0.025},
{"e":1570,"k":0.85,"y":0.185,"r":0.185,"m":0.04,"c":0.12,"n":0.018},
{"e":1575,"k":0.65,"y":0.113,"r":0.113,"m":0.045,"c":0.2,"n":0.034},
{"e":1580,"k":0.72,"y":0.15,"r":0.15,"m":0.014,"c":0.33,"n":0.015},
{"e":1585,"k":0.48,"y":0.087,"r":0.087,"m":0.068,"c":0.42,"n":0.027},
{"e":1590,"k":3.3,"y":0.25,"r":0.32,"m":0.024,"c":1.09,"n":0.018},
{"e":1595,"k":0.61,"y":0.12,"r":0.12,"m":0.047,"n":0.033},
{"e":1600,"k":0.79,"y":0.094,"r":0.094,"m":0.016,"n":0.0095},
{"e":1605,"k":0.48,"y":0.162,"r":0.162,"m":0.078,"n":0.034},
{"e":1610,"k":0.96,"y":0.08,"r":0.08,"m":0.031,"n":0.019},
{"e":1615,"k":0.645,"y":0.135,"r":0.135,"m":0.019,"n":0.024},
{"e":1620,"k":0.52,"y":0.097,"r":0.097,"m":0.057,"n":0.0094},
{"e":1625,"k":0.83,"y":0.162,"r":0.162,"m":0.014,"n":0.041},
{"e":1630,"k":1.05,"y":0.073,"r":0.073,"m":0.04,"n":0.016},
{"e":1635,"k":0.71,"y":0.144,"r":0.144,"m":0.021,"n":0.028},
{"e":1640,"k":0.53,"y":0.104,"r":0.104,"m":0.059,"n":0.0098},
{"e":1645,"k":0.83,"y":0.119,"r":0.119,"m":0.012,"n":0.042},
{"e":1650,"k":0.41,"y":0.073,"r":0.073,"m":0.046,"n":0.018},
{"e":1655,"k":0.74,"y":0.159,"r":0.159,"m":0.025,"n":0.011},
{"e":1660,"k":0.56,"y":0.097,"r":0.097,"m":0.032,"n":0.031},
{"e":1665,"k":0.63,"y":0.132,"r":0.132,"m":0.012,"n":0.0082},
{"e":1670,"k":0.41,"y":0.075,"r":0.075,"m":0.058,"n":0.021},
{"e":1675,"k":0.81,"y":0.165,"r":0.165,"m":0.022,"n":0.0115},
{"e":1680,"k":0.53,"y":0.104,"r":0.104,"m":0.04,"n":0.03},
{"e":1685,"k":0.69,"y":0.081,"r":0.081,"m":0.013,"n":0.003},
{"e":1690,"k":0.42,"y":0.139,"r":0.139,"m":0.064,"n":0.024},
{"e":1695,"k":0.84,"y":0.069,"r":0.069,"m":0.026,"n":0.013},
{"e":1700,"k":0.56,"y":0.115,"r":0.115,"m":0.016,"n":0.017},
{"e":1705,"k":0.45,"y":0.084,"r":0.084,"m":0.046,"n":0.0067},
{"e":1710,"k":0.72,"y":0.14,"r":0.14,"m":0.0115,"n":0.029},
{"e":1715,"k":0.39,"y":0.063,"r":0.063,"m":0.032,"n":0.011},
{"e":1720,"k":0.61,"y":0.125,"r":0.125,"m":0.017,"n":0.02},
{"e":1725,"k":0.46,"y":0.091,"r":0.091,"m":0.047,"n":0.0068},
{"e":1730,"k":1.37,"y":0.104,"r":0.104,"m":0.0095,"n":0.029},
{"e":1735,"k":0.36,"y":0.064,"r":0.064,"m":0.037,"n":0.0126},
{"e":1740,"k":0.64,"y":0.141,"r":0.141,"m":0.02,"n":0.0079},
{"e":1745,"k":0.48,"y":0.087,"r":0.087,"m":0.026,"n":0.022},
{"e":1750,"k":0.54,"y":0.118,"r":0.118,"m":0.0097,"n":0.0059},
{"e":1755,"k":0.36,"y":0.068,"r":0.068,"m":0.046,"n":0.015},
{"e":1760,"k":0.7,"y":0.15,"r":0.15,"m":0.017,"n":0.0084},
{"e":1765,"k":3.57,"y":0.1,"r":0.3,"m":0.1,"n":0.06},
{"e":1770,"k":0.6,"y":0.074,"r":0.074,"m":0.0104,"n":0.0048},
{"e":1775,"k":0.37,"y":0.128,"r":0.128,"m":0.05,"n":0.017},
{"e":1780,"k":0.74,"y":0.064,"r":0.064,"m":0.02,"n":0.0095},
{"e":1785,"k":0.5,"y":0.107,"r":0.107,"m":0.0124,"n":0.012},
{"e":1790,"k":0.4,"y":0.078,"r":0.078,"m":0.037,"n":0.0048},
{"e":1795,"k":0.65,"y":0.13,"r":0.13,"m":0.0094,"n":0.021},
{"e":1800,"k":0.36,"y":0.059,"r":0.059,"m":0.026,"n":0.009},
{"e":1805,"k":0.56,"y":0.117,"r":0.117,"m":0.014,"n":0.016},
{"e":1810,"k":0.42,"y":0.085,"r":0.085,"m":0.039,"n":0.0056},
{"e":1815,"k":0.65,"y":0.098,"r":0.098,"m":0.008,"n":0.025},
{"e":1820,"k":0.33,"y":0.06,"r":0.06,"m":0.031,"n":0.0106},
{"e":1825,"k":0.58,"y":0.133,"r":0.133,"m":0.0165,"n":0.0067},
{"e":1830,"k":0.44,"y":0.082,"r":0.082,"m":0.022,"n":0.019},
{"e":1835,"k":0.49,"y":0.111,"r":0.111,"m":0.0082,"n":0.005},
{"e":1840,"k":0.32,"y":0.064,"r":0.064,"m":0.039,"n":0.013},
{"e":1845,"k":0.63,"y":0.142,"r":0.142,"m":0.0147,"n":0.0073},
{"e":1850,"k":0.41,"y":0.09,"r":0.09,"m":0.027,"n":0.019},
{"e":1855,"k":0.54,"y":0.07,"r":0.07,"m":0.0089,"n":0.0043},
{"e":1860,"k":0.26,"y":0.122,"r":0.122,"m":0.043,"n":0.015},
{"e":1865,"k":0.67,"y":0.061,"r":0.061,"m":0.0174,"n":0.0085},
{"e":1870,"k":0.45,"y":0.103,"r":0.103,"m":0.0107,"n":0.011},
{"e":1875,"k":0.36,"y":0.075,"r":0.075,"m":0.032,"n":0.0044},
{"e":1880,"k":0.59,"y":0.125,"r":0.125,"m":0.0079,"n":0.019},
{"e":1885,"k":0.32,"y":0.057,"r":0.057,"m":0.022,"n":0.0076},
{"e":1890,"k":0.51,"y":0.112,"r":0.112,"m":0.0116,"n":0.0135},
{"e":1895,"k":0.39,"y":0.082,"r":0.082,"m":0.032,"n":0.0047},
{"e":1900,"k":0.61,"y":0.094,"r":0.094,"m":0.0066,"n":0.021},
{"e":1905,"k":0.3,"y":0.058,"r":0.058,"m":0.026,"n":0.009},
{"e":1910,"k":0.55,"y":0.128,"r":0.128,"m":0.0137,"n":0.0058},
{"e":1915,"k":0.41,"y":0.078,"r":0.078,"m":0.018,"n":0.016},
{"e":1920,"k":0.46,"y":0.107,"r":0.107,"m":0.0069,"n":0.0044},
{"e":1925,"k":0.3,"y":0.061,"r":0.061,"m":0.033,"n":0.0114},
{"e":1930,"k":0.6,"y":0.135,"r":0.135,"m":0.0125,"n":0.0063},
{"e":1935,"k":0.39,"y":0.086,"r":0.086,"m":0.023,"n":0.0165},
{"e":1940,"k":0.51,"y":0.067,"r":0.067,"m":0.0076,"n":0.0037},
{"e":1945,"k":0.31,"y":0.116,"r":0.116,"m":0.037,"n":0.0135},
{"e":1950,"k":0.62,"y":0.058,"r":0.058,"m":0.015,"n":0.0076},
{"e":1955,"k":0.42,"y":0.098,"r":0.098,"m":0.0092,"n":0.0097},
{"e":1960,"k":0.34,"y":0.071,"r":0.071,"m":0.0275,"n":0.0039},
{"e":1965,"k":0.55,"y":0.12,"r":0.12,"m":0.0069,"n":0.017},
{"e":1970,"k":0.3,"y":0.054,"r":0.054,"m":0.019,"n":0.0069},
{"e":1975,"k":0.47,"y":0.108,"r":0.108,"m":0.0103,"n":0.012},
{"e":1980,"k":0.36,"y":0.079,"r":0.079,"m":0.029,"n":0.0043},
{"e":1985,"k":0.57,"y":0.091,"r":0.091,"m":0.0059,"n":0.019},
{"e":1990,"k":0.29,"y":0.056,"r":0.056,"m":0.023,"n":0.0082},
{"e":1995,"k":0.52,"y":0.124,"r":0.124,"m":0.0123,"n":0.0052},
{"e":2000,"k":0.39,"y":0.077,"r":0.077,"m":0.016,"n":0.014}
]},
"encoding": {
 "x": {"field": "e", "type": "quantitative", "scale": {"domain": [0, 2000], "nice": false, "zero": false},
  "axis": {"values": [0, 500, 1000, 1500, 2000], "format": "d", "tickSize": 8, "labelPadding": 17, "labelFontSize": 38, "labelFlush": false, "labelOverlap": false, "labelBound": false, "title": "Energy / keV", "titleFontSize": 44, "titlePadding": 24}},
 "y": {"field": "v", "type": "quantitative", "scale": {"type": "log", "domain": [0.005, 200], "nice": false},
  "axis": {"values": [0.01, 0.1, 1, 10, 100], "format": "~g", "tickSize": 7, "labelPadding": 24, "labelFontSize": 39, "labelOverlap": false, "title": "Count Rate ks⁻¹ keV⁻¹", "titleFontSize": 43, "titlePadding": 24}}
},
"layer": [
 {"transform": [{"fold": ["r"], "as": ["s", "v"]}], "mark": {"type": "line", "color": "#FF0000", "strokeWidth": 2.4, "clip": true}},
 {"transform": [{"fold": ["y"], "as": ["s", "v"]}], "mark": {"type": "line", "color": "#FFFF00", "strokeWidth": 2.4, "clip": true}},
 {"transform": [{"fold": ["g"], "as": ["s", "v"]}], "mark": {"type": "line", "color": "#00FF00", "strokeWidth": 2.4, "clip": true}},
 {"transform": [{"fold": ["b"], "as": ["s", "v"]}], "mark": {"type": "line", "color": "#0000FF", "strokeWidth": 2.4, "clip": true}},
 {"transform": [{"fold": ["a"], "as": ["s", "v"]}], "mark": {"type": "line", "color": "#C0C0C0", "strokeWidth": 2.4, "clip": true}},
 {"transform": [{"fold": ["m"], "as": ["s", "v"]}], "mark": {"type": "line", "color": "#FF00FF", "strokeWidth": 2.4, "clip": true}},
 {"transform": [{"fold": ["c"], "as": ["s", "v"]}], "mark": {"type": "line", "color": "#00FFFF", "strokeWidth": 2.4, "clip": true}},
 {"transform": [{"fold": ["n"], "as": ["s", "v"]}], "mark": {"type": "line", "color": "#800000", "strokeWidth": 2.4, "clip": true}},
 {"transform": [{"fold": ["k"], "as": ["s", "v"]}], "mark": {"type": "line", "color": "#000000", "strokeWidth": 2.4, "clip": true}}
]
}
